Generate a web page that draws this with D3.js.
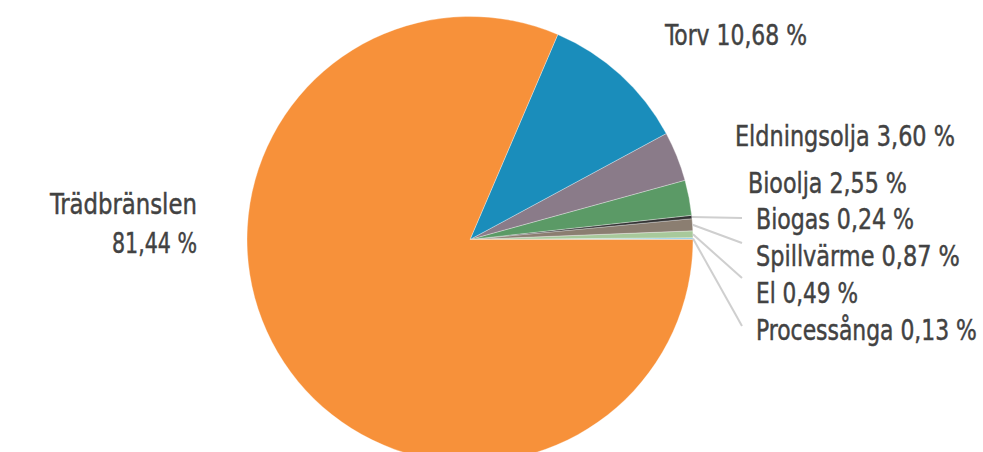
<!DOCTYPE html>
<html>
<head>
<meta charset="utf-8">
<script src="https://cdn.jsdelivr.net/npm/d3@7"></script>
<style>
  html, body { margin: 0; padding: 0; background: #fff; }
  svg { display: block; }
  text { font-family: "DejaVu Sans Condensed", "Liberation Sans Narrow", sans-serif; font-size: 29px; fill: #424242; stroke: #424242; stroke-width: 0.45px; }
</style>
</head>
<body>
<svg id="chart" width="983" height="452"></svg>
<script>
// Data (counter-clockwise from 3 o'clock)
const categories = ["Processånga", "El", "Spillvärme", "Biogas", "Bioolja", "Eldningsolja", "Torv", "Trädbränslen"];
const values = [0.13, 0.49, 0.87, 0.24, 2.55, 3.60, 10.68, 81.44];
const valueLabels = ["0,13 %", "0,49 %", "0,87 %", "0,24 %", "2,55 %", "3,60 %", "10,68 %", "81,44 %"];
const colors = ["#8fcbe6", "#a8c99b", "#8b7e71", "#333333", "#5b9a66", "#8a7b89", "#1a8dbb", "#f7913a"];

// Label layout (separate from data): text position, text width, leader end
const labelPos = {
  "Processånga": {x: 756, y: 340, w: 221, lx: 742, ly: 326},
  "El":          {x: 756, y: 303, w: 102, lx: 742, ly: 278},
  "Spillvärme":  {x: 756, y: 266, w: 204, lx: 742, ly: 243},
  "Biogas":      {x: 756, y: 229, w: 158, lx: 742, ly: 218},
  "Bioolja":     {x: 748, y: 193, w: 159},
  "Eldningsolja":{x: 735, y: 146, w: 220},
  "Torv":        {x: 665, y: 45,  w: 142}
};
const bigLabel = {x: 197, y1: 214, y2: 253, w1: 147, w2: 85};

const svg = d3.select("#chart");
const cx = 470, cy = 239.5, r = 223;
const g = svg.append("g").attr("transform", `translate(${cx},${cy})`);

const pie = d3.pie().sort(null).value(d => d.v)
  .startAngle(Math.PI / 2).endAngle(Math.PI / 2 - 2 * Math.PI);
const data = categories.map((c, i) => ({c, v: values[i], lab: valueLabels[i], col: colors[i]}));
const arcs = pie(data);

const arc = d3.arc().innerRadius(0).outerRadius(r);
const edge = d3.arc().innerRadius(r).outerRadius(r);

g.selectAll("path.slice").data(arcs).join("path")
  .attr("class", "slice")
  .attr("d", arc)
  .attr("fill", d => d.data.col)
  .attr("stroke", "rgba(255,255,255,0.55)")
  .attr("stroke-width", 0.6);

// Leader lines
const lines = arcs.filter(d => labelPos[d.data.c] && labelPos[d.data.c].lx !== undefined);
g.selectAll("line.leader").data(lines).join("line")
  .attr("class", "leader")
  .attr("x1", d => edge.centroid(d)[0])
  .attr("y1", d => edge.centroid(d)[1])
  .attr("x2", d => labelPos[d.data.c].lx - cx)
  .attr("y2", d => labelPos[d.data.c].ly - cy)
  .attr("stroke", "#cfcfcf")
  .attr("stroke-width", 2);

// helper: place text with left edge x, baseline y, fitted to width w (condensed via scaleX)
function fitText(str, x, y, w) {
  const t = svg.append("text").attr("x", 0).attr("y", 0).text(str);
  const nat = t.node().getComputedTextLength();
  const s = w / nat;
  t.attr("transform", `translate(${x},${y}) scale(${s},1)`);
  return t;
}

// Right labels
arcs.filter(d => labelPos[d.data.c]).forEach(d => {
  const p = labelPos[d.data.c];
  fitText(d.data.c + " " + d.data.lab, p.x, p.y, p.w);
});

// Trädbränslen label (two lines, right aligned)
const big = arcs.find(d => d.data.c === "Trädbränslen");
fitText(big.data.c, bigLabel.x - bigLabel.w1, bigLabel.y1, bigLabel.w1);
fitText(big.data.lab, bigLabel.x - bigLabel.w2, bigLabel.y2, bigLabel.w2);
</script>
</body>
</html>
